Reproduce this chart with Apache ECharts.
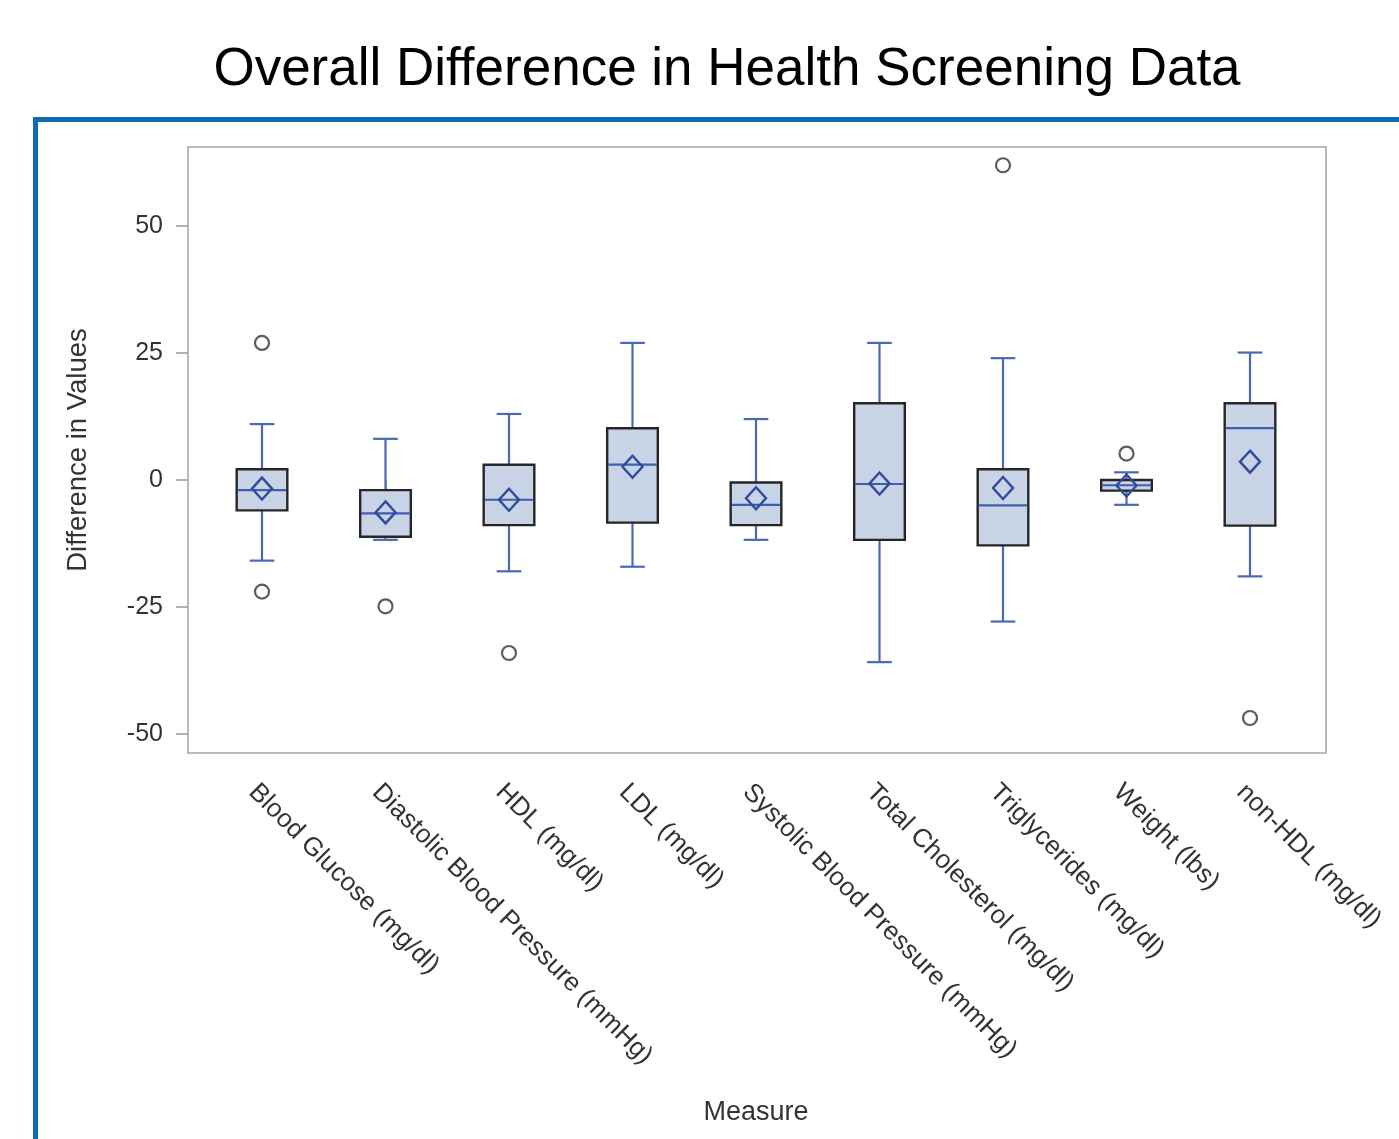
<!DOCTYPE html>
<html>
<head>
<meta charset="utf-8">
<script src="https://cdn.jsdelivr.net/npm/echarts@6/dist/echarts.min.js"></script>
<style>
html,body{margin:0;padding:0;background:#fff;}
#chart{width:1399px;height:1139px;}
</style>
</head>
<body>
<div id="chart"></div>
<script>
const categories = ['Blood Glucose (mg/dl)','Diastolic Blood Pressure (mmHg)','HDL (mg/dl)','LDL (mg/dl)','Systolic Blood Pressure (mmHg)','Total Cholesterol (mg/dl)','Triglycerides (mg/dl)','Weight (lbs)','non-HDL (mg/dl)'];
const whiskerLow  = [-15.9, -11.8, -18.0, -17.1, -11.8, -35.9, -27.9, -4.9, -19.0];
const q1Values    = [-6.0, -11.2, -8.9, -8.4, -8.9, -11.8, -12.9, -2.1, -9.0];
const medianValues= [-2.0, -6.6, -3.9, 3.0, -4.9, -0.8, -5.0, -1.05, 10.2];
const q3Values    = [2.1, -2.0, 3.0, 10.2, -0.5, 15.1, 2.1, 0.0, 15.1];
const whiskerHigh = [11.0, 8.1, 13.0, 27.0, 12.0, 27.0, 24.0, 1.5, 25.1];
const meanValues  = [-1.7, -6.4, -3.9, 2.6, -3.6, -0.7, -1.6, -1.1, 3.6];
const outliers    = [[0, 27.0], [0, -22.0], [1, -24.9], [2, -34.1], [6, 62.0], [7, 5.2], [8, -46.9]];
const yTicks      = [-50, -25, 0, 25, 50];
const yMin = -53.8, yMax = 65.6;

const boxRows = categories.map((c, i) => [i, whiskerLow[i], q1Values[i], medianValues[i], q3Values[i], whiskerHigh[i], meanValues[i]]);

const WHISKER = '#4a69b0';
const MEDIAN = '#3d5fae';
const DIAMOND = '#2d4c9c';
const FONT = '"Liberation Sans", Arial, sans-serif';

function renderBox(params, api) {
  const i = api.value(0);
  const band = api.size([1, 0])[0];
  const bw = band * 0.41;
  const cw = band * 0.2;
  const pLow = api.coord([i, api.value(1)]);
  const pQ1 = api.coord([i, api.value(2)]);
  const pMed = api.coord([i, api.value(3)]);
  const pQ3 = api.coord([i, api.value(4)]);
  const pHigh = api.coord([i, api.value(5)]);
  const pMean = api.coord([i, api.value(6)]);
  const x = pMed[0];
  const lineStyle = { stroke: WHISKER, lineWidth: 2.2 };
  return {
    type: 'group',
    children: [
      { type: 'line', shape: { x1: x, y1: pHigh[1], x2: x, y2: pQ3[1] }, style: lineStyle },
      { type: 'line', shape: { x1: x, y1: pLow[1], x2: x, y2: pQ1[1] }, style: lineStyle },
      { type: 'line', shape: { x1: x - cw / 2, y1: pHigh[1], x2: x + cw / 2, y2: pHigh[1] }, style: lineStyle },
      { type: 'line', shape: { x1: x - cw / 2, y1: pLow[1], x2: x + cw / 2, y2: pLow[1] }, style: lineStyle },
      { type: 'rect', shape: { x: x - bw / 2, y: pQ3[1], width: bw, height: pQ1[1] - pQ3[1] },
        style: { fill: '#c9d3e6', stroke: '#262626', lineWidth: 2.4 } },
      { type: 'line', shape: { x1: x - bw / 2 + 1, y1: pMed[1], x2: x + bw / 2 - 1, y2: pMed[1] },
        style: { stroke: MEDIAN, lineWidth: 2.2 } },
      { type: 'polygon', shape: { points: [[x, pMean[1] - 11], [x + 10, pMean[1]], [x, pMean[1] + 11], [x - 10, pMean[1]]] },
        style: { fill: 'none', stroke: DIAMOND, lineWidth: 2.4 } }
    ]
  };
}

const chart = echarts.init(document.getElementById('chart'), null, { renderer: 'canvas' });
chart.setOption({
  backgroundColor: '#ffffff',
  animation: false,
  textStyle: { fontFamily: FONT },
  graphic: [
    { type: 'text', x: 727, y: 44, style: { text: 'Overall Difference in Health Screening Data', fontSize: 53, fontFamily: FONT, fill: '#000', textAlign: 'center', textVerticalAlign: 'top' } },
    { type: 'rect', shape: { x: 33, y: 117, width: 1366, height: 5 }, style: { fill: '#0f69b6' } },
    { type: 'rect', shape: { x: 33, y: 117, width: 5, height: 1022 }, style: { fill: '#0f69b6' } }
  ],
  grid: [
    { left: 188, top: 147, width: 1138, height: 606, show: true, borderColor: '#a3a3a3', borderWidth: 1.5, backgroundColor: '#fff', containLabel: false },
    { left: 200.25, top: 147, width: 1111.5, height: 606, containLabel: false }
  ],
  xAxis: [
    { type: 'value', gridIndex: 0, show: false, min: 0, max: 1 },
    { type: 'category', gridIndex: 1, data: categories, boundaryGap: true,
      axisLine: { show: false },
      axisTick: { show: true, alignWithLabel: true, length: 12, lineStyle: { color: '#9a9a9a', width: 1.5 } },
      axisLabel: { rotate: -45, align: 'left', verticalAlign: 'top', margin: 26, fontSize: 26, color: '#333', fontFamily: FONT, interval: 0 },
      name: 'Measure', nameLocation: 'middle', nameGap: 346,
      nameTextStyle: { fontSize: 27, color: '#333', fontFamily: FONT },
      splitLine: { show: false } }
  ],
  yAxis: [
    { type: 'value', gridIndex: 0, min: yMin, max: yMax,
      axisLine: { show: false },
      axisTick: { show: true, length: 12, customValues: yTicks, lineStyle: { color: '#9a9a9a', width: 1.5 } },
      axisLabel: { customValues: yTicks, fontSize: 25, color: '#333', margin: 25, fontFamily: FONT },
      splitLine: { show: false },
      name: 'Difference in Values', nameLocation: 'middle', nameRotate: 90, nameGap: 96,
      nameTextStyle: { fontSize: 27.5, color: '#333', fontFamily: FONT } },
    { type: 'value', gridIndex: 1, min: yMin, max: yMax, show: false, splitLine: { show: false } }
  ],
  series: [
    { type: 'custom', xAxisIndex: 1, yAxisIndex: 1, data: boxRows, renderItem: renderBox, encode: { x: 0, y: [1,2,3,4,5,6] }, z: 3 },
    { type: 'scatter', xAxisIndex: 1, yAxisIndex: 1, data: outliers, symbol: 'circle', symbolSize: 14,
      itemStyle: { color: 'rgba(0,0,0,0)', borderColor: '#333', borderWidth: 2.2 }, z: 4 }
  ]
});
</script>
</body>
</html>
